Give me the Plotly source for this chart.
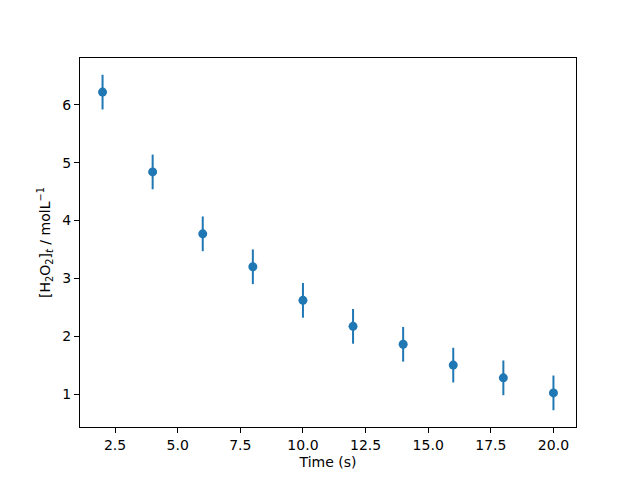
import plotly.graph_objects as go

# time points and measured concentrations
time_s = [2, 4, 6, 8, 10, 12, 14, 16, 18, 20]
conc = [6.22, 4.84, 3.77, 3.20, 2.62, 2.17, 1.86, 1.50, 1.28, 1.02]
conc_err = [0.3, 0.3, 0.3, 0.3, 0.3, 0.3, 0.3, 0.3, 0.3, 0.3]

blue = "#1f77b4"

fig = go.Figure()
fig.add_trace(go.Scatter(
    x=time_s, y=conc,
    mode="markers",
    marker=dict(color=blue, size=9),
    error_y=dict(type="data", array=conc_err, color=blue, thickness=2, width=0),
    showlegend=False,
))

axis_style = dict(
    showline=True, linecolor="black", linewidth=1, mirror=True,
    ticks="outside", ticklen=5, tickwidth=1, tickcolor="black",
    showgrid=False, zeroline=False,
    tickfont=dict(size=14, color="black"),
)

fig.update_xaxes(range=[1.1, 20.9], tickvals=[2.5, 5, 7.5, 10, 12.5, 15, 17.5, 20],
                 ticktext=["2.5", "5.0", "7.5", "10.0", "12.5", "15.0", "17.5", "20.0"],
                 title=dict(text="Time (s)", font=dict(size=14, color="black"), standoff=5),
                 **axis_style)
fig.update_yaxes(range=[0.43, 6.81], tickvals=[1, 2, 3, 4, 5, 6],
                 title=dict(text="[H<sub>2</sub>O<sub>2</sub>]<sub><i>t</i></sub> / molL<sup>−1</sup>",
                            font=dict(size=14, color="black"), standoff=8),
                 **axis_style)

# page body adds an 8px offset, so margins are trimmed on the left/top
fig.update_layout(
    width=640, height=480,
    margin=dict(l=72, r=72, t=50, b=61),
    plot_bgcolor="white", paper_bgcolor="white",
    font=dict(family="DejaVu Sans", color="black"),
)

fig.write_html("out.html")
